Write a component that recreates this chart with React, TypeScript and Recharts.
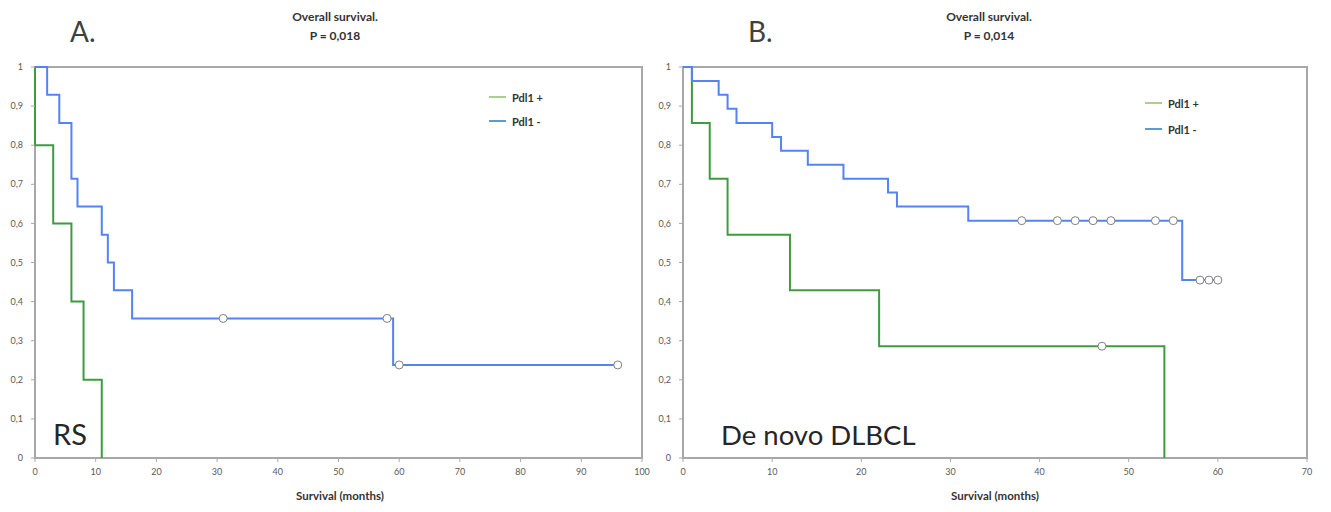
import React from 'react'
import { ComposedChart, Line, XAxis, YAxis, ReferenceArea, Legend } from 'recharts'

// shared axis ticks
const yTicks = [0, 0.1, 0.2, 0.3, 0.4, 0.5, 0.6, 0.7, 0.8, 0.9, 1]
const rsXTicks = [0, 10, 20, 30, 40, 50, 60, 70, 80, 90, 100]
const dlXTicks = [0, 10, 20, 30, 40, 50, 60, 70]

const seriesNames = ['Pdl1 +', 'Pdl1 -']

// A. RS – Pdl1 +
const rsPosTime = [0, 0, 3, 6, 8, 11]
const rsPosSurv = [1, 0.8, 0.6, 0.4, 0.2, 0]
const rsPosCensTime: number[] = []
const rsPosCensSurv: number[] = []

// A. RS – Pdl1 -
const rsNegTime = [0, 2, 4, 6, 7, 11, 12, 13, 16, 59]
const rsNegSurv = [1, 0.929, 0.857, 0.714, 0.643, 0.571, 0.5, 0.429, 0.357, 0.238]
const rsNegCensTime = [31, 58, 60, 96]
const rsNegCensSurv = [0.357, 0.357, 0.238, 0.238]

// B. De novo DLBCL – Pdl1 +
const dlPosTime = [0, 1, 3, 5, 12, 22, 54]
const dlPosSurv = [1, 0.857, 0.714, 0.571, 0.429, 0.286, 0]
const dlPosCensTime = [47]
const dlPosCensSurv = [0.286]

// B. De novo DLBCL – Pdl1 -
const dlNegTime = [0, 1, 4, 5, 6, 10, 11, 14, 18, 23, 24, 32, 56]
const dlNegSurv = [1, 0.964, 0.929, 0.893, 0.857, 0.821, 0.786, 0.75, 0.714, 0.679, 0.643, 0.607, 0.455]
const dlNegCensTime = [38, 42, 44, 46, 48, 53, 55, 58, 59, 60]
const dlNegCensSurv = [0.607, 0.607, 0.607, 0.607, 0.607, 0.607, 0.607, 0.455, 0.455, 0.455]

const GREEN = '#3f9b3f'
const BLUE = '#5482f7'
const LEGEND_GREEN = '#a9d18e'
const LEGEND_BLUE = '#5b9bd5'
const AXIS = '#a8a8a8'
const TICK_TEXT = '#595959'
const FONT = 'Lato, "Open Sans", sans-serif'

type Pt = { t: number; s: number; censored: boolean }

function curve(times: number[], surv: number[], cTimes: number[], cSurv: number[]): Pt[] {
  const ev = times.map((t, i) => ({ t, s: surv[i], censored: false }))
  const ce = cTimes.map((t, i) => ({ t, s: cSurv[i], censored: true }))
  return [...ev, ...ce].sort((a, b) => a.t - b.t)
}

const censorDot = (props: any) => {
  const { cx, cy, payload, index } = props
  if (!payload || !payload.censored) return <g key={`n${index}`} />
  return <circle key={`c${index}`} cx={cx} cy={cy} r={4} fill="#fff" stroke="#808080" strokeWidth={1} />
}

const commaFmt = (v: number) => String(v).replace('.', ',')

function KmLegend({ gap }: { gap: number }) {
  const colors = [LEGEND_GREEN, LEGEND_BLUE]
  return (
    <div style={{ fontFamily: FONT, fontWeight: 700, fontSize: 11, color: '#333' }}>
      {seriesNames.map((n, i) => (
        <div key={n} style={{ display: 'flex', alignItems: 'center', height: 14, marginBottom: i === 0 ? gap - 14 : 0 }}>
          <span style={{ display: 'inline-block', width: 17, height: 2, background: colors[i], marginRight: 6 }} />
          <span>{n}</span>
        </div>
      ))}
    </div>
  )
}

interface PanelProps {
  width: number
  xMax: number
  xTicks: number[]
  yAxisWidth: number
  marginLeft: number
  marginRight: number
  pos: Pt[]
  neg: Pt[]
  legendLeft: number
  legendTop: number
  legendGap: number
}

function KmPanel(p: PanelProps) {
  // frame (incl. left and bottom axis lines) is drawn by the reference area,
  // so the curves at t = 0 and S = 1 stay visible on top of it
  return (
    <ComposedChart
      width={p.width}
      height={512}
      margin={{ top: 67, right: p.marginRight, bottom: 24, left: p.marginLeft }}
    >
      <XAxis
        type="number"
        dataKey="t"
        domain={[0, p.xMax]}
        ticks={p.xTicks}
        height={30}
        tickSize={4}
        tickMargin={7}
        axisLine={false}
        tickLine={{ stroke: AXIS }}
        tick={{ fontSize: 9, fill: TICK_TEXT }}
      />
      <YAxis
        type="number"
        domain={[0, 1]}
        ticks={yTicks}
        width={p.yAxisWidth}
        tickSize={4}
        tickMargin={8}
        tickFormatter={commaFmt}
        axisLine={false}
        tickLine={{ stroke: AXIS }}
        tick={{ fontSize: 9, fill: TICK_TEXT }}
      />
      <ReferenceArea x1={0} x2={p.xMax} y1={0} y2={1} fill="none" stroke={AXIS} strokeWidth={2} />
      <Line
        name={seriesNames[0]}
        data={p.pos}
        dataKey="s"
        type="stepAfter"
        stroke={GREEN}
        strokeWidth={2}
        dot={censorDot}
        activeDot={false}
        isAnimationActive={false}
      />
      <Line
        name={seriesNames[1]}
        data={p.neg}
        dataKey="s"
        type="stepAfter"
        stroke={BLUE}
        strokeWidth={2}
        dot={censorDot}
        activeDot={false}
        isAnimationActive={false}
      />
      <Legend
        layout="horizontal"
        verticalAlign="middle"
        align="center"
        wrapperStyle={{ left: p.legendLeft, top: p.legendTop, width: 80 }}
        content={() => <KmLegend gap={p.legendGap} />}
      />
    </ComposedChart>
  )
}

export default function App() {
  const rsPos = curve(rsPosTime, rsPosSurv, rsPosCensTime, rsPosCensSurv)
  const rsNeg = curve(rsNegTime, rsNegSurv, rsNegCensTime, rsNegCensSurv)
  const dlPos = curve(dlPosTime, dlPosSurv, dlPosCensTime, dlPosCensSurv)
  const dlNeg = curve(dlNegTime, dlNegSurv, dlNegCensTime, dlNegCensSurv)

  return (
    <div style={{ position: 'absolute', left: 0, top: 0, width: 1331, height: 512, background: '#fff', fontFamily: FONT }}>
      <div style={{ position: 'absolute', left: 0, top: 0 }}>
        <KmPanel
          width={650}
          xMax={100}
          xTicks={rsXTicks}
          yAxisWidth={30}
          marginLeft={5}
          marginRight={8}
          pos={rsPos}
          neg={rsNeg}
          legendLeft={489}
          legendTop={90}
          legendGap={24}
        />
      </div>
      <div style={{ position: 'absolute', left: 650, top: 0 }}>
        <KmPanel
          width={681}
          xMax={70}
          xTicks={dlXTicks}
          yAxisWidth={18}
          marginLeft={15}
          marginRight={24}
          pos={dlPos}
          neg={dlNeg}
          legendLeft={495}
          legendTop={96}
          legendGap={26}
        />
      </div>
      <svg width={1331} height={512} style={{ position: 'absolute', left: 0, top: 0, pointerEvents: 'none' }}>
        <g fontFamily={FONT}>
          <text x={70} y={42} fontSize={28} fill="#404040">A.</text>
          <text x={748} y={42} fontSize={28} fill="#404040">B.</text>
          <text x={335} y={21} fontSize={12} fontWeight={700} fill="#333" textAnchor="middle">Overall survival.</text>
          <text x={335} y={40} fontSize={12} fontWeight={700} fill="#333" textAnchor="middle">P = 0,018</text>
          <text x={989} y={21} fontSize={12} fontWeight={700} fill="#333" textAnchor="middle">Overall survival.</text>
          <text x={989} y={40} fontSize={12} fontWeight={700} fill="#333" textAnchor="middle">P = 0,014</text>
          <text x={53} y={445} fontSize={29} fill="#262626">RS</text>
          <text x={721} y={445} fontSize={27.5} fill="#262626">De novo DLBCL</text>
          <text x={340} y={500} fontSize={11.5} fontWeight={700} fill="#333" textAnchor="middle">Survival (months)</text>
          <text x={995} y={500} fontSize={11.5} fontWeight={700} fill="#333" textAnchor="middle">Survival (months)</text>
        </g>
      </svg>
    </div>
  )
}
